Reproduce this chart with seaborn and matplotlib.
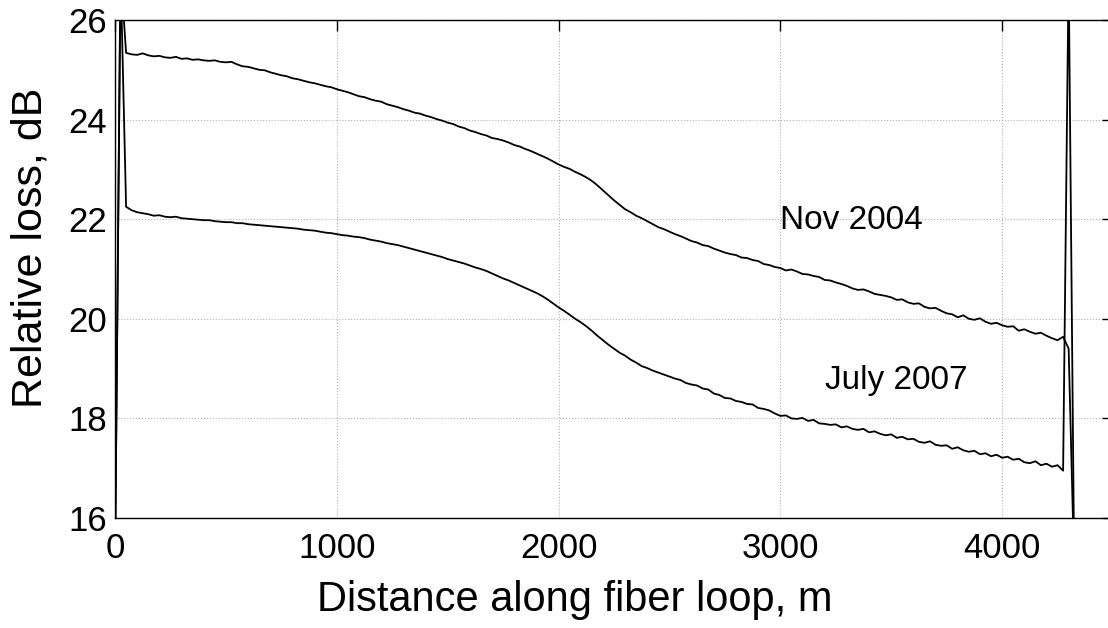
import numpy as np
import matplotlib
matplotlib.use("Agg")
import matplotlib.pyplot as plt
import seaborn as sns
import pandas as pd

# OTDR trace, one sample every 25 m
distance = np.arange(0, 4350, 25)

nov_2004 = [
    15.00, 27.00, 25.34, 25.31, 25.30, 25.33, 25.29, 25.27, 25.28, 25.25,
    25.24, 25.26, 25.22, 25.23, 25.20, 25.21, 25.19, 25.18, 25.19, 25.16,
    25.15, 25.16, 25.11, 25.07, 25.06, 25.03, 25.00, 24.99, 24.95, 24.92,
    24.89, 24.87, 24.83, 24.81, 24.78, 24.75, 24.73, 24.70, 24.67, 24.65,
    24.61, 24.58, 24.55, 24.51, 24.47, 24.45, 24.41, 24.38, 24.36, 24.31,
    24.28, 24.25, 24.21, 24.18, 24.14, 24.12, 24.08, 24.05, 24.01, 23.98,
    23.94, 23.91, 23.86, 23.83, 23.78, 23.75, 23.71, 23.68, 23.63, 23.61,
    23.58, 23.54, 23.49, 23.46, 23.41, 23.37, 23.32, 23.27, 23.22, 23.16,
    23.10, 23.05, 23.01, 22.95, 22.90, 22.84, 22.77, 22.68, 22.58, 22.48,
    22.38, 22.29, 22.20, 22.14, 22.07, 22.02, 21.96, 21.90, 21.84, 21.80,
    21.75, 21.70, 21.66, 21.61, 21.56, 21.53, 21.48, 21.46, 21.41, 21.37,
    21.33, 21.30, 21.28, 21.23, 21.22, 21.18, 21.16, 21.10, 21.08, 21.04,
    21.02, 20.97, 20.99, 20.95, 20.90, 20.89, 20.86, 20.84, 20.78, 20.77,
    20.73, 20.70, 20.66, 20.61, 20.58, 20.59, 20.55, 20.50, 20.48, 20.46,
    20.43, 20.38, 20.39, 20.33, 20.30, 20.31, 20.24, 20.21, 20.22, 20.16,
    20.11, 20.09, 20.03, 20.07, 20.00, 19.98, 20.01, 19.94, 19.90, 19.92,
    19.87, 19.84, 19.85, 19.76, 19.79, 19.74, 19.70, 19.72, 19.66, 19.61,
    19.57, 19.64, 19.40, 15.00,
]

july_2007 = [
    15.00, 27.00, 22.25, 22.18, 22.14, 22.12, 22.10, 22.07, 22.08, 22.05,
    22.04, 22.05, 22.02, 22.01, 22.00, 21.99, 21.98, 21.98, 21.96, 21.95,
    21.94, 21.94, 21.92, 21.92, 21.90, 21.89, 21.88, 21.87, 21.86, 21.85,
    21.84, 21.83, 21.82, 21.81, 21.79, 21.78, 21.77, 21.75, 21.73, 21.72,
    21.70, 21.68, 21.67, 21.65, 21.64, 21.62, 21.59, 21.57, 21.55, 21.52,
    21.50, 21.48, 21.45, 21.42, 21.39, 21.36, 21.33, 21.30, 21.27, 21.24,
    21.20, 21.17, 21.14, 21.11, 21.07, 21.03, 21.00, 20.96, 20.91, 20.86,
    20.81, 20.77, 20.72, 20.67, 20.62, 20.57, 20.52, 20.46, 20.39, 20.31,
    20.23, 20.16, 20.08, 20.00, 19.93, 19.85, 19.76, 19.66, 19.57, 19.48,
    19.40, 19.32, 19.26, 19.18, 19.12, 19.05, 19.01, 18.96, 18.92, 18.88,
    18.84, 18.80, 18.77, 18.71, 18.68, 18.66, 18.60, 18.58, 18.50, 18.47,
    18.41, 18.40, 18.35, 18.33, 18.29, 18.28, 18.21, 18.19, 18.16, 18.10,
    18.05, 18.06, 18.00, 17.99, 18.01, 17.95, 17.97, 17.90, 17.89, 17.87,
    17.88, 17.82, 17.84, 17.79, 17.77, 17.79, 17.72, 17.74, 17.69, 17.66,
    17.68, 17.61, 17.63, 17.58, 17.59, 17.53, 17.51, 17.54, 17.47, 17.45,
    17.46, 17.39, 17.42, 17.36, 17.33, 17.35, 17.28, 17.30, 17.24, 17.27,
    17.21, 17.23, 17.17, 17.19, 17.12, 17.10, 17.14, 17.06, 17.09, 17.03,
    17.06, 16.95, 27.00, 15.00,
]

surveys = ["Nov 2004", "July 2007"]
x_ticks = [0, 1000, 2000, 3000, 4000]
y_ticks = [16, 18, 20, 22, 24, 26]

if __name__ == "__main__":
    sns.set_style("white")
    plt.rcParams['font.family'] = ['Liberation Sans', 'DejaVu Sans']
    plt.rcParams['text.color'] = 'black'
    plt.rcParams['axes.labelcolor'] = 'black'
    plt.rcParams['xtick.color'] = 'black'
    plt.rcParams['ytick.color'] = 'black'

    df = pd.DataFrame({
        "Distance": np.concatenate([distance, distance]),
        "Loss": np.array(nov_2004 + july_2007),
        "Survey": [surveys[0]] * len(distance) + [surveys[1]] * len(distance),
    })

    fig = plt.figure(figsize=(11.08, 6.28), dpi=100)
    ax = fig.add_axes([115 / 1108, 110 / 628, 998 / 1108, 498 / 628])

    sns.lineplot(data=df, x="Distance", y="Loss", hue="Survey", units="Survey",
                 estimator=None, sort=False, palette=["black", "black"],
                 linewidth=1.3, legend=False, ax=ax)

    ax.set_xlim(0, 4500)
    ax.set_ylim(16, 26)
    ax.set_xticks(x_ticks)
    ax.set_yticks(y_ticks)
    ax.grid(True, linestyle=':', color='#b0b0b0', linewidth=0.8)
    ax.tick_params(direction='in', length=8, width=1, labelsize=25,
                   top=True, right=True, colors='black')
    ax.tick_params(axis='x', pad=10)
    ax.tick_params(axis='y', pad=6)
    for s in ax.spines.values():
        s.set_visible(True)
        s.set_color('black')
        s.set_linewidth(1.0)

    ax.set_xlabel('Distance along fiber loop, m', fontsize=30, va='center')
    ax.xaxis.set_label_coords(0.461, -0.165)
    ax.set_ylabel('Relative loss, dB', fontsize=31, va='center')
    ax.yaxis.set_label_coords(-0.085, 0.542)

    ax.text(3000, 21.98, surveys[0], fontsize=24, ha='left', va='center')
    ax.text(3200, 18.77, surveys[1], fontsize=24, ha='left', va='center')

    fig.savefig('out.png', dpi=100)
